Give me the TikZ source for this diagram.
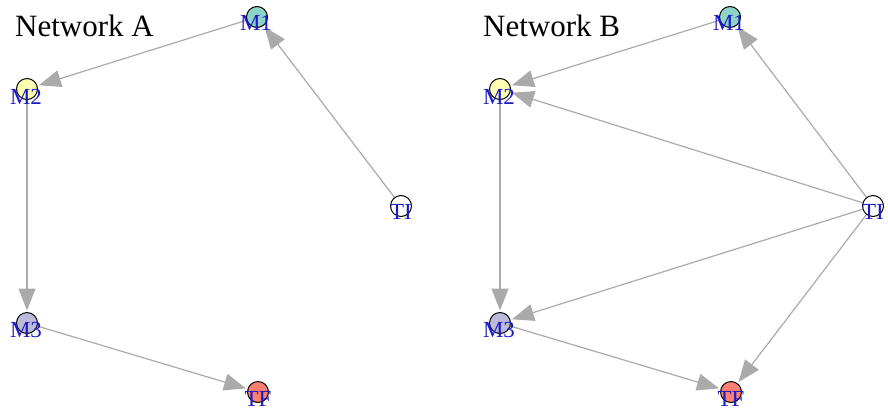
\documentclass[tikz,border=0pt]{standalone}
\usepackage{fontspec}
\setmainfont{Liberation Serif}
\usetikzlibrary{arrows.meta,backgrounds}
\definecolor{edgegray}{HTML}{AAAAAA}
\definecolor{labblue}{HTML}{1A1AC8}
\definecolor{cMone}{HTML}{8DD3C7}
\definecolor{cMtwo}{HTML}{FFFFB3}
\definecolor{cMthree}{HTML}{BEBADA}
\definecolor{cTF}{HTML}{FB8072}
\begin{document}
\begin{tikzpicture}[x=1pt,y=-1pt,
  vtx/.style={circle, draw=black, line width=1pt, minimum size=21pt, inner sep=0pt, outer sep=0pt},
  lab/.style={text=labblue, font=\fontsize{23}{23}\selectfont, inner sep=0pt},
  edge/.style={draw=edgegray, line width=1.2pt, -{Triangle[length=22pt,width=17pt,fill=edgegray]}, shorten >=2pt},
  ttl/.style={font=\fontsize{31}{31}\selectfont, anchor=base west, inner sep=0pt}]
\useasboundingbox (0,0) rectangle (888,413);

\node[ttl] (tA) at (15,36) {Network A};
\node[ttl] (tB) at (483,36) {Network B};

% Network A
\node[vtx, fill=cMone]   (aM1) at (257,17)  {};
\node[vtx, fill=cMtwo]   (aM2) at (27,89)   {};
\node[vtx, fill=white]   (aTI) at (401,206) {};
\node[vtx, fill=cMthree] (aM3) at (27,323)  {};
\node[vtx, fill=cTF]     (aTF) at (258,392) {};
\node[lab] (aM1l) at (256,23)  {M1};
\node[lab] (aM2l) at (26,97)   {M2};
\node[lab] (aTIl) at (401,212) {TI};
\node[lab] (aM3l) at (26,330)  {M3};
\node[lab] (aTFl) at (258,399) {TF};

% Network B
\node[vtx, fill=cMone]   (bM1) at (730,17)  {};
\node[vtx, fill=cMtwo]   (bM2) at (500,89)  {};
\node[vtx, fill=white]   (bTI) at (873,206) {};
\node[vtx, fill=cMthree] (bM3) at (500,323) {};
\node[vtx, fill=cTF]     (bTF) at (731,392) {};
\node[lab] (bM1l) at (729,23)  {M1};
\node[lab] (bM2l) at (499,97)  {M2};
\node[lab] (bTIl) at (873,212) {TI};
\node[lab] (bM3l) at (499,330) {M3};
\node[lab] (bTFl) at (731,399) {TF};

\begin{pgfonlayer}{background}
\draw[edge] (aM1) -- (aM2);
\draw[edge] (aTI) -- (aM1);
\draw[edge] (aM2) -- (aM3);
\draw[edge] (aM3) -- (aTF);

\draw[edge] (bM1) -- (bM2);
\draw[edge] (bTI) -- (bM2);
\draw[edge] (bTI) -- (bM1);
\draw[edge] (bTI) -- (bM3);
\draw[edge] (bTI) -- (bTF);
\draw[edge] (bM2) -- (bM3);
\draw[edge] (bM3) -- (bTF);
\end{pgfonlayer}
\end{tikzpicture}
\end{document}
